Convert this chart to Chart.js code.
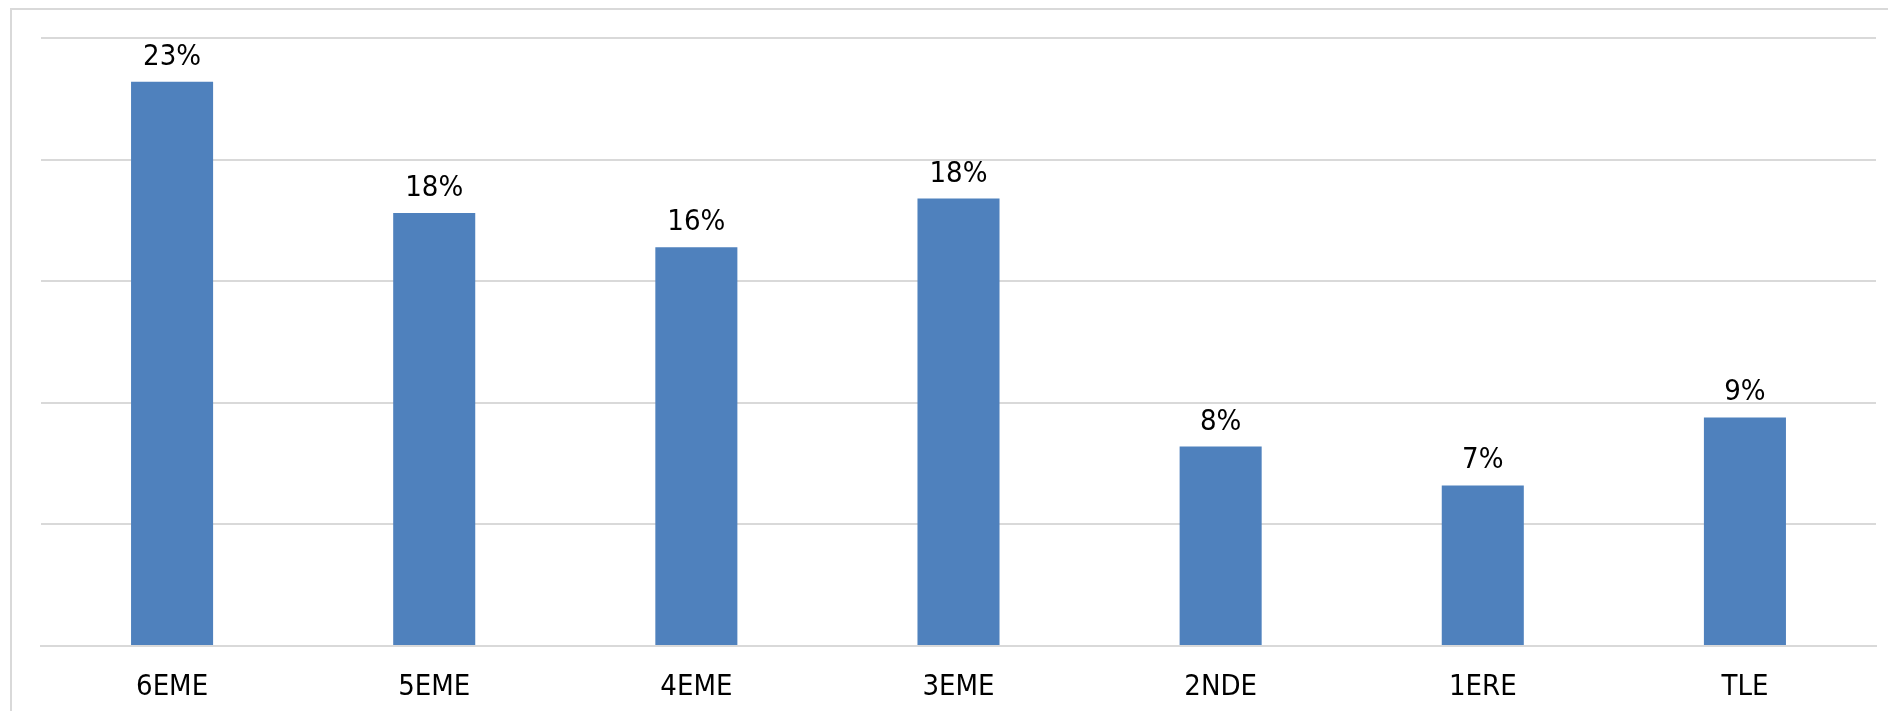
<!DOCTYPE html>
<html>
<head>
<meta charset="utf-8">
<script src="https://cdn.jsdelivr.net/npm/chart.js@4/dist/chart.umd.min.js"></script>
<style>
  html, body { margin: 0; padding: 0; background: #fff; }
  #wrap { position: relative; width: 1888px; height: 711px; overflow: hidden; }
  #frame { position: absolute; left: 10px; top: 8px; width: 1900px; height: 720px;
           border-left: 2px solid #d9d9d9; border-top: 2px solid #d9d9d9; }
  canvas { position: absolute; left: 0; top: 0; }
</style>
</head>
<body>
<div id="wrap">
  <div id="frame"></div>
  <canvas id="c" width="1888" height="711"></canvas>
</div>
<script>
const categories = ["6EME", "5EME", "4EME", "3EME", "2NDE", "1ERE", "TLE"];
const values = [23.2, 17.8, 16.4, 18.4, 8.2, 6.6, 9.4];
const yTicks = [0, 5, 10, 15, 20, 25];

const FONT = "'DejaVu Sans Condensed', 'DejaVu Sans', sans-serif";

const valueLabels = {
  id: 'valueLabels',
  afterDatasetsDraw(chart) {
    const ctx = chart.ctx;
    const meta = chart.getDatasetMeta(0);
    ctx.save();
    ctx.font = "29px " + FONT;
    ctx.fillStyle = "#000000";
    ctx.textAlign = "center";
    ctx.textBaseline = "alphabetic";
    meta.data.forEach((bar, i) => {
      ctx.fillText(Math.round(values[i]) + "%", bar.x, bar.y - 17);
    });
    ctx.restore();
  }
};

new Chart(document.getElementById('c'), {
  type: 'bar',
  data: {
    labels: categories,
    datasets: [{
      data: values,
      backgroundColor: '#4f81bd',
      borderWidth: 0,
      categoryPercentage: 1,
      barPercentage: 0.313
    }]
  },
  options: {
    responsive: false,
    animation: false,
    devicePixelRatio: 1,
    layout: { padding: { left: 41, right: 12, top: 38, bottom: 0 } },
    plugins: { legend: { display: false }, tooltip: { enabled: false } },
    scales: {
      x: {
        grid: { display: false, drawTicks: false },
        border: { display: true, color: '#d9d9d9', width: 2 },
        ticks: { font: { family: FONT, size: 29 }, color: '#000000', padding: 24, maxRotation: 0 },
        afterFit(scale) { scale.height = 65; }
      },
      y: {
        min: 0, max: 25,
        afterBuildTicks(scale) { scale.ticks = yTicks.map(v => ({ value: v })); },
        grid: { color: '#d9d9d9', lineWidth: 2, drawTicks: false },
        border: { display: false },
        ticks: { display: false },
        afterFit(scale) { scale.width = 0; }
      }
    }
  },
  plugins: [valueLabels]
});
</script>
</body>
</html>
